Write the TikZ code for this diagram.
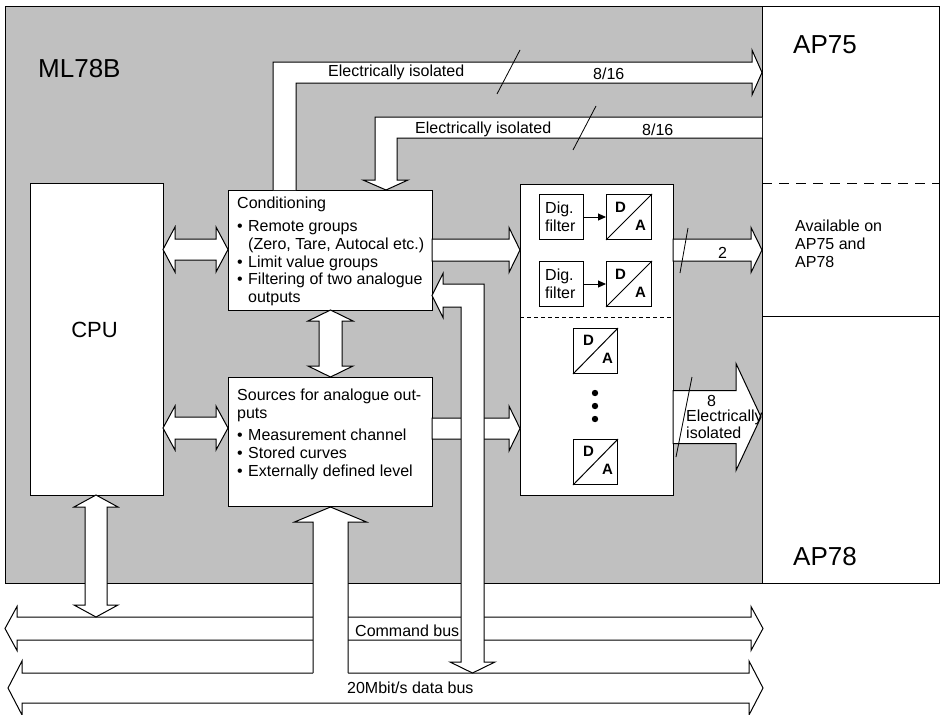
\documentclass[tikz,border=0pt]{standalone}
\usepackage{fontspec}
\setmainfont{Liberation Sans}
\usetikzlibrary{arrows.meta,calc}
\definecolor{bggray}{RGB}{192,192,192}
\tikzset{
  box/.style={draw=black, fill=white, line width=1pt, inner sep=0pt, anchor=north west},
  fat/.style={draw=black, fill=white, line width=1pt, line join=miter},
  txt/.style={anchor=base west, inner sep=0pt, font=\fontsize{16}{18}\selectfont},
  bigtxt/.style={anchor=base west, inner sep=0pt, font=\fontsize{26}{30}\selectfont},
  dalbl/.style={anchor=base west, inner sep=0pt, font=\fontsize{15}{16}\selectfont\bfseries},
  slashline/.style={draw=black, line width=0.8pt},
  thinline/.style={draw=black, line width=1pt},
}
\newcommand\bul{\makebox[11pt][l]{\textbullet}}
% horizontal double-headed block arrow between two named coordinates
\newcommand\fatLR[5]{%
\draw[fat] let \p1=(#1), \p2=(#2) in (\x1,\y1) -- (\x1+#5pt,\y1+#4pt) -- (\x1+#5pt,\y1+#3pt) -- (\x2-#5pt,\y1+#3pt) -- (\x2-#5pt,\y1+#4pt) -- (\x2,\y1) -- (\x2-#5pt,\y1-#4pt) -- (\x2-#5pt,\y1-#3pt) -- (\x1+#5pt,\y1-#3pt) -- (\x1+#5pt,\y1-#4pt) -- cycle;}
% horizontal block arrow pointing right
\newcommand\fatRt[5]{%
\draw[fat] let \p1=(#1), \p2=(#2) in (\x1,\y1+#3pt) -- (\x2-#5pt,\y1+#3pt) -- (\x2-#5pt,\y1+#4pt) -- (\x2,\y1) -- (\x2-#5pt,\y1-#4pt) -- (\x2-#5pt,\y1-#3pt) -- (\x1,\y1-#3pt) -- cycle;}
% vertical double-headed block arrow (#1 top, #2 bottom)
\newcommand\fatUD[5]{%
\draw[fat] let \p1=(#1), \p2=(#2) in (\x1,\y1) -- (\x1+#4pt,\y1-#5pt) -- (\x1+#3pt,\y1-#5pt) -- (\x1+#3pt,\y2+#5pt) -- (\x1+#4pt,\y2+#5pt) -- (\x1,\y2) -- (\x1-#4pt,\y2+#5pt) -- (\x1-#3pt,\y2+#5pt) -- (\x1-#3pt,\y1-#5pt) -- (\x1-#4pt,\y1-#5pt) -- cycle;}
\begin{document}
\begin{tikzpicture}[x=1pt,y=-1pt]
\useasboundingbox (0,0) rectangle (943,715);

% frames
\node[box, fill=bggray, minimum width=757pt, minimum height=577pt] (ml) at (5,6) {};
\node[box, minimum width=177pt, minimum height=577pt] (ap) at (762,6) {};
\coordinate (apdl) at (762,183); \coordinate (apdr) at (939,183);
\coordinate (apsl) at (762,316); \coordinate (apsr) at (939,316);
\draw[thinline, dash pattern=on 10pt off 7pt] (apdl) -- (apdr);
\draw[thinline] (apsl) -- (apsr);

% buses
\coordinate (cmdl) at (5,628.5); \coordinate (cmdr) at (763,628.5);
\coordinate (datl) at (8,688); \coordinate (datr) at (763,688);
\fatLR{datl}{datr}{15}{27}{14}
\fatLR{cmdl}{cmdr}{11.5}{22}{12}

% boxes
\node[box, minimum width=133pt, minimum height=312pt] (cpu) at (30,183) {};
\node[box, minimum width=204pt, minimum height=120pt] (cond) at (228,190) {};
\node[box, minimum width=204pt, minimum height=129pt] (src) at (228,377) {};
\node[box, minimum width=153pt, minimum height=311pt] (da) at (520,184) {};

% CPU <-> command bus
\coordinate (v2t) at (96,495); \coordinate (v2b) at (96,617);
\fatUD{v2t}{v2b}{11}{22}{12}

% sources <- data bus (merging into the data bus)
\fill[white] (313,674.5) -- (313,522) -- (294.5,522) -- (330.5,507) -- (366.5,522) -- (348,522) -- (348,674.5) -- cycle;
\draw[thinline, line join=miter] (313,673) -- (313,522) -- (294.5,522) -- (330.5,507) -- (366.5,522) -- (348,522) -- (348,673);

% horizontal arrows
\coordinate (h1l) at (163,249.5); \coordinate (h1r) at (228,249.5);
\fatLR{h1l}{h1r}{10.5}{22.5}{12}
\coordinate (h2l) at (163,428); \coordinate (h2r) at (228,428);
\fatLR{h2l}{h2r}{11}{22}{12}
\coordinate (h3l) at (432,250); \coordinate (h3r) at (520,250);
\fatRt{h3l}{h3r}{11}{22.5}{11}
\coordinate (h4l) at (432,428.5); \coordinate (h4r) at (520,428.5);
\fatRt{h4l}{h4r}{10.5}{22.5}{11}
\coordinate (h5l) at (673,250); \coordinate (h5r) at (762,250);
\fatRt{h5l}{h5r}{11}{22.5}{11}
\coordinate (h6l) at (673,417); \coordinate (h6r) at (761,417);
\fatRt{h6l}{h6r}{26.5}{53.5}{25}

% conditioning <-> sources
\coordinate (v1t) at (330.5,310); \coordinate (v1b) at (330.5,377);
\fatUD{v1t}{v1b}{11.5}{22.5}{11}

% L-shaped arrows
\draw[fat] (273,190) -- (273,62) -- (752,62) -- (752,50) -- (762,72.5) -- (752,95) -- (752,83) -- (296,83) -- (296,190);
\draw[fat] (762,117) -- (375,117) -- (375,180) -- (363,180) -- (386,190) -- (408,180) -- (397,180) -- (397,138) -- (762,138);
\draw[fat] (432,295.5) -- (443,273.5) -- (443,284) -- (484,284) -- (484,662) -- (495,662) -- (472.5,673) -- (450,662) -- (461,662) -- (461,307) -- (443,307) -- (443,317.5) -- cycle;

% slashes
\coordinate (s1a) at (497,94); \coordinate (s1b) at (520,50);
\coordinate (s2a) at (573,150); \coordinate (s2b) at (596,106);
\coordinate (s3a) at (680,273); \coordinate (s3b) at (688,228);
\coordinate (s4a) at (676,457); \coordinate (s4b) at (692,377);
\draw[slashline] (s1a) -- (s1b);
\draw[slashline] (s2a) -- (s2b);
\draw[slashline] (s3a) -- (s3b);
\draw[slashline] (s4a) -- (s4b);

% inner D/A box contents
\node[box, minimum width=44pt, minimum height=45pt] (f1) at (539,194) {};
\node[box, minimum width=45pt, minimum height=45pt] (d1) at (606,194) {};
\node[box, minimum width=44pt, minimum height=45pt] (f2) at (539,261) {};
\node[box, minimum width=45pt, minimum height=45pt] (d2) at (606,261) {};
\node[box, minimum width=44pt, minimum height=45pt] (d3) at (573,328) {};
\node[box, minimum width=44pt, minimum height=45pt] (d4) at (573,439) {};
\draw[thinline, -{Triangle[length=8pt,width=7pt]}] (f1.east) -- (d1.west);
\draw[thinline, -{Triangle[length=8pt,width=7pt]}] (f2.east) -- (d2.west);
\foreach \d in {d1,d2,d3,d4} {\draw[thinline] (\d.south west) -- (\d.north east);}
\coordinate (dal) at (520,317); \coordinate (dar) at (673,317);
\draw[thinline, dash pattern=on 4pt off 3pt] (dal) -- (dar);
\fill (595,393) circle (3.2pt);
\fill (595,406) circle (3.2pt);
\fill (595,419) circle (3.2pt);

% D/A letters
\node[dalbl] (d1D) at (615,212) {D}; \node[dalbl] (d1A) at (635,230) {A};
\node[dalbl] (d2D) at (615,279) {D}; \node[dalbl] (d2A) at (635,297) {A};
\node[dalbl] (d3D) at (583,345) {D}; \node[dalbl] (d3A) at (602,363) {A};
\node[dalbl] (d4D) at (583,456) {D}; \node[dalbl] (d4A) at (602,474) {A};

% texts
\node[bigtxt] (tml) at (38,77) {ML78B};
\node[bigtxt] (tap75) at (793,53) {AP75};
\node[bigtxt] (tap78) at (793,565) {AP78};
\node[anchor=base, inner sep=0pt, font=\fontsize{22}{26}\selectfont] (tcpu) at (94.5,337) {CPU};

\node[txt] (tiso1) at (328,76.5) {Electrically isolated};
\node[txt] (tn1) at (593,79) {8/16};
\node[txt] (tiso2) at (415,133) {Electrically isolated};
\node[txt] (tn2) at (642,135) {8/16};

\node[txt] (c1) at (237,208) {Conditioning};
\node[txt] (c2) at (237,231) {\bul Remote groups};
\node[txt] (c3) at (248,249) {(Zero, Tare, Autocal etc.)};
\node[txt] (c4) at (237,267) {\bul Limit value groups};
\node[txt] (c5) at (237,284) {\bul Filtering of two analogue};
\node[txt] (c6) at (248,302) {outputs};

\node[txt] (s1) at (237,400) {Sources for analogue out-};
\node[txt] (s2) at (237,418) {puts};
\node[txt] (s3) at (237,440) {\bul Measurement channel};
\node[txt] (s4) at (237,458) {\bul Stored curves};
\node[txt] (s5) at (237,476) {\bul Externally defined level};

\node[txt] (av1) at (795,231) {Available on};
\node[txt] (av2) at (795,249) {AP75 and};
\node[txt] (av3) at (795,267) {AP78};

\node[txt] (fa1) at (545,213) {Dig.};
\node[txt] (fa2) at (545,231) {filter};
\node[txt] (fb1) at (545,280) {Dig.};
\node[txt] (fb2) at (545,298) {filter};

\node[txt] (t2) at (718,258) {2};
\node[txt] (t8) at (707,406) {8};
\node[txt] (te1) at (686,421) {Electrically};
\node[txt] (te2) at (686,438) {isolated};

\node[txt] (tcmd) at (355,636) {Command bus};
\node[txt] (tdata) at (347,693) {20Mbit/s data bus};
\end{tikzpicture}
\end{document}
